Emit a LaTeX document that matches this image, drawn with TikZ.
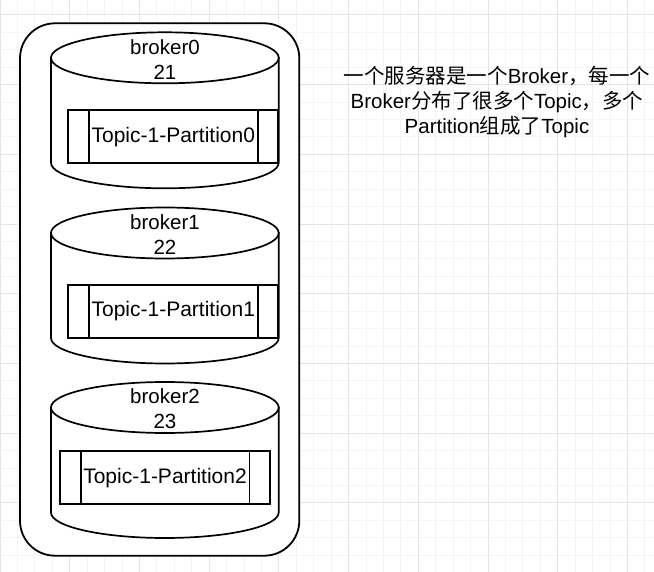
\documentclass[tikz,border=0pt]{standalone}
\usepackage{fontspec}
\setmainfont{Liberation Sans}
\newfontfamily\cjk{Noto Sans CJK SC}
\newcommand\mycyl[5]{%
  \pgfmathsetmacro\cx{(#1+#2)/2}%
  \pgfmathsetmacro\rx{(#2-#1)/2}%
  \pgfmathsetmacro\kx{0.5523*\rx}%
  \pgfmathsetmacro\ky{0.5523*#5}%
  \filldraw[cylstyle] (#1,#3) -- (#1,#4) .. controls (#1,#4+\ky) and (\cx-\kx,#4+#5) .. (\cx,#4+#5) .. controls (\cx+\kx,#4+#5) and (#2,#4+\ky) .. (#2,#4) -- (#2,#3) -- cycle;
  \filldraw[cylstyle] (\cx,#3) ellipse[x radius=\rx pt, y radius=#5 pt];
}
\begin{document}
\begin{tikzpicture}[x=1pt,y=-1pt,
  minorgrid/.style={draw=gray!9,line width=1pt},
  majorgrid/.style={draw=gray!20,line width=1pt},
  cylstyle/.style={draw=black,fill=white,line width=1.7pt},
  outerbox/.style={draw=black,fill=white,line width=1.8pt,rounded corners=35pt},
  procbox/.style={draw=black,fill=white,line width=1.7pt,inner sep=0pt,minimum width=210pt,minimum height=53pt,font=\fontsize{21}{25}\selectfont},
  sideline/.style={line width=1.7pt},
  lbl/.style={inner sep=0pt,align=center,font=\fontsize{20.5}{25}\selectfont}]
\useasboundingbox (0,0) rectangle (654,572);
\fill[white] (0,0) rectangle (654,572);
% grid
\foreach \i in {0,...,37} \draw[minorgrid] ({17.43*\i},0) -- ({17.43*\i},572);
\foreach \j in {-1,...,32} \draw[minorgrid] (0,{14.9+17.43*\j}) -- (654,{14.9+17.43*\j});
\foreach \i in {0,...,9} \draw[majorgrid] ({69.72*\i},0) -- ({69.72*\i},572);
\foreach \j in {0,...,8} \draw[majorgrid] (0,{14.9+69.72*\j}) -- (654,{14.9+69.72*\j});
% outer rounded box
\draw[outerbox] (20,23.3) rectangle (299.3,555.7);
% cylinders
\mycyl{51}{278.7}{57.8}{162.8}{25.5}
\mycyl{51}{278.7}{233}{338}{25.5}
\mycyl{51}{278.7}{407.5}{512.5}{25.5}
% broker labels
\node[lbl] (b0) at (165,59.2) {broker0\\21};
\node[lbl] (b1) at (165,234.5) {broker1\\22};
\node[lbl] (b2) at (165,408.8) {broker2\\23};
% partitions
\node[procbox] (p0) at (173.3,136.7) {Topic-1-Partition0};
\node[procbox] (p1) at (173.3,311.5) {Topic-1-Partition1};
\node[procbox] (p2) at (165,477.7) {Topic-1-Partition2};
\foreach \p in {p0,p1,p2}{
  \draw[sideline] ([xshift=21.5pt]\p.north west) -- ([xshift=21.5pt]\p.south west);
  \draw[sideline] ([xshift=-21.5pt]\p.north east) -- ([xshift=-21.5pt]\p.south east);
}
% note
\node[lbl] (note) at (497,102) {{\cjk 一个服务器是一个}Broker{\cjk ，每一个}\\Broker{\cjk 分布了很多个}Topic{\cjk ，多个}\\Partition{\cjk 组成了}Topic};
\end{tikzpicture}
\end{document}
